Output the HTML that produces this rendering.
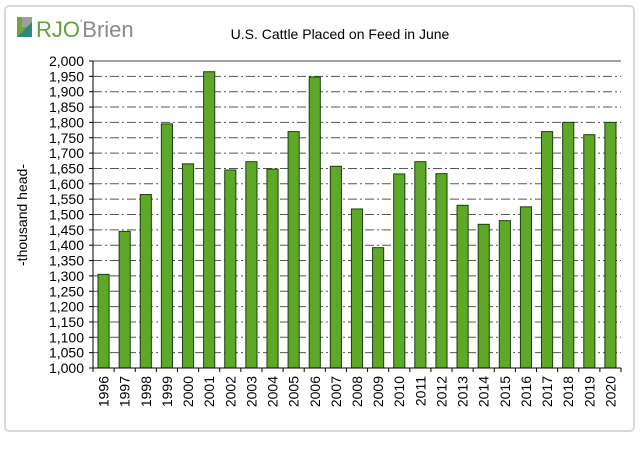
<!DOCTYPE html>
<html><head><meta charset="utf-8"><style>
body{margin:0;background:#fff;font-family:"Liberation Sans",sans-serif}
</style></head><body>
<svg width="644" height="445" viewBox="0 0 644 445">
<rect x="5" y="6" width="629" height="425" rx="4" fill="#fff" stroke="#d9d9d9" stroke-width="2"/>
<g>
<rect x="17" y="17" width="15" height="20" fill="#6aa93a"/>
<rect x="22" y="17" width="10" height="10" fill="#9e9e9e"/>
<polygon points="17,37 32,22 32,37" fill="#2b8a7d"/>
<text x="36" y="37" font-size="22" fill="#5fa23a" font-family="Liberation Sans, sans-serif">RJO<tspan fill="#8a8a8a" font-size="12" dy="-9">'</tspan><tspan fill="#8a8a8a" dy="9">Brien</tspan></text>
</g>
<text x="340" y="39" font-size="14" text-anchor="middle" fill="#000">U.S. Cattle Placed on Feed in June</text>
<text transform="translate(27,215) rotate(-90)" font-size="14" text-anchor="middle">-thousand head-</text>
<g id="grid"></g><g id="bars"></g><g id="axes"></g>
</svg>
<script>
const years=['1996','1997','1998','1999','2000','2001','2002','2003','2004','2005','2006','2007','2008','2009','2010','2011','2012','2013','2014','2015','2016','2017','2018','2019','2020'];
const placements=[1305,1445,1565,1795,1665,1965,1645,1672,1648,1770,1948,1657,1518,1392,1632,1672,1633,1530,1468,1480,1525,1770,1800,1760,1800];
const yTicks=[1000,1050,1100,1150,1200,1250,1300,1350,1400,1450,1500,1550,1600,1650,1700,1750,1800,1850,1900,1950,2000];
const NS='http://www.w3.org/2000/svg';
const X0=93,X1=621,Y0=368,Y1=61,YMIN=1000,YMAX=2000;
const y=v=>Y0-(v-YMIN)/(YMAX-YMIN)*(Y0-Y1);
const bw=(X1-X0)/years.length;
const x=i=>X0+i*bw;
function mk(t,a,p){const e=document.createElementNS(NS,t);for(const k in a)e.setAttribute(k,a[k]);p.appendChild(e);return e;}
const grid=document.getElementById('grid'),bars=document.getElementById('bars'),axes=document.getElementById('axes');
yTicks.forEach(v=>{
  if(v>YMIN&&v<YMAX){const l=mk('line',{x1:X0,x2:X1,y1:y(v),y2:y(v),stroke:'#555','stroke-width':1,'stroke-dasharray':'9,3,2,3'},grid);
  
  }
  const tk=mk('line',{x1:X0-4,x2:X0,y1:y(v),y2:y(v),stroke:'#000'},axes);
  
  
  const t=mk('text',{x:X0-9,y:y(v)+5,'font-size':14,'text-anchor':'end'},axes);
  t.textContent=v.toLocaleString('en-US');
  
  
});
mk('line',{x1:X0,x2:X1,y1:Y1,y2:Y1,stroke:'#444'},axes);
placements.forEach((v,i)=>{
  const r=mk('rect',{x:x(i)+5,y:y(v),width:bw-10,height:Y0-y(v),fill:'#5ea828',stroke:'#1e3d0c','stroke-width':1},bars);
  
  
  const tk=mk('line',{x1:x(i),x2:x(i),y1:Y0,y2:Y0+4,stroke:'#000'},axes);
  
  
  const t=mk('text',{transform:'translate('+(x(i)+bw/2+5)+','+(Y0+8)+') rotate(-90)','font-size':14,'text-anchor':'end'},axes);
  t.textContent=years[i];
  
  
});
mk('line',{x1:X1,x2:X1,y1:Y0,y2:Y0+4,stroke:'#000'},axes);
const ax=mk('line',{x1:X0,x2:X1,y1:Y0,y2:Y0,stroke:'#000'},axes);


const ay=mk('line',{x1:X0,x2:X0,y1:Y1,y2:Y0,stroke:'#000'},axes);


</script>
</body></html>
